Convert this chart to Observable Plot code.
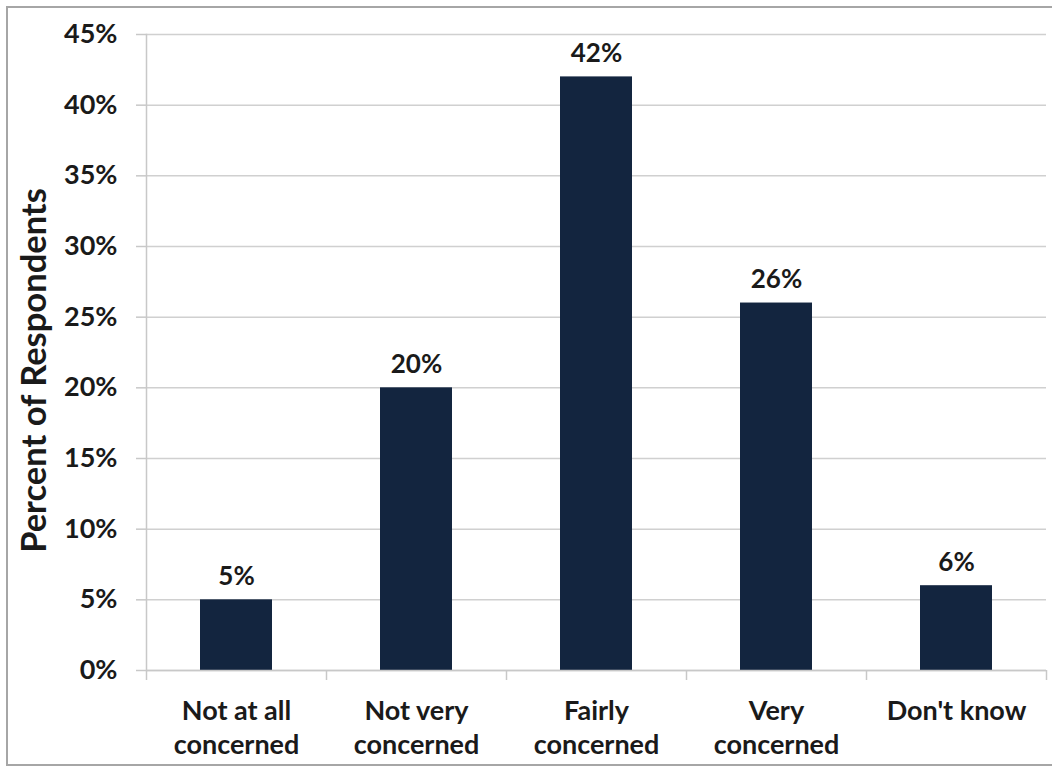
<!DOCTYPE html>
<html>
<head>
<meta charset="utf-8">
<script src="https://cdn.jsdelivr.net/npm/d3@7"></script>
<script src="https://cdn.jsdelivr.net/npm/@observablehq/plot@0.6"></script>
<style>
  html, body { margin: 0; padding: 0; background: #fff; }
  #wrap { position: relative; width: 1052px; height: 769px; overflow: hidden; }
  #frame { position: absolute; left: 6px; top: 6px; width: 1060px; height: 760px;
           border: 2px solid #a6a6a6; box-sizing: border-box; pointer-events: none; }
  svg { font-family: Lato, "Open Sans", sans-serif; }
</style>
</head>
<body>
<div id="wrap"><div id="frame"></div></div>
<script>
const categories = ["Not at all\nconcerned", "Not very\nconcerned", "Fairly\nconcerned", "Very\nconcerned", "Don't know"];
const values = [5, 20, 42, 26, 6];
const yTicks = [0, 5, 10, 15, 20, 25, 30, 35, 40, 45];
const yTitle = "Percent of Respondents";

const data = categories.map((c, i) => ({category: c, value: values[i]}));

const W = 1052, H = 769;
const mL = 146, mR = 6, mT = 34, mB = 99;
const bandW = (W - mL - mR) / categories.length;

const chart = Plot.plot({
  width: W,
  height: H,
  marginLeft: mL,
  marginRight: mR,
  marginTop: mT,
  marginBottom: mB,
  style: {fontFamily: "Lato, 'Open Sans', sans-serif", background: "transparent"},
  x: {domain: categories, paddingInner: 0.6, paddingOuter: 0.3, label: null},
  y: {domain: [0, 45], label: null},
  marks: [
    Plot.gridY(yTicks, {stroke: "#d0d0d0", strokeOpacity: 1, strokeWidth: 1.5}),
    Plot.axisY(yTicks, {
      tickSize: 10, tickPadding: 19, stroke: "#c8c8c8", strokeWidth: 1.5,
      tickFormat: d => d + "%", fontSize: 27, fontWeight: "bold", fill: "#1a1a1a",
      label: null
    }),
    Plot.axisX({
      tickSize: 0, tickPadding: 25, fontSize: 27, fontWeight: "bold", fill: "#1a1a1a",
      lineHeight: 1.26, label: null
    }),
    Plot.axisX({
      tickSize: 10, text: null, dx: -bandW / 2, stroke: "#c8c8c8", strokeWidth: 1.5, label: null
    }),
    Plot.axisX(categories.slice(-1), {
      tickSize: 10, text: null, dx: bandW / 2, stroke: "#c8c8c8", strokeWidth: 1.5, label: null
    }),
    Plot.barY(data, {x: "category", y: "value", fill: "#13253f"}),
    Plot.ruleY([0], {stroke: "#c8c8c8", strokeWidth: 1.5}),
    Plot.frame({anchor: "left", stroke: "#c8c8c8", strokeWidth: 1.5}),
    Plot.text(data, {
      x: "category", y: "value", text: d => d.value + "%",
      dy: -15, lineAnchor: "bottom", fontSize: 26, fontWeight: "bold", fill: "#1a1a1a"
    }),
    Plot.text([yTitle], {
      frameAnchor: "left", textAnchor: "middle", text: d => d, rotate: -90, dx: -112, dy: 18,
      fontSize: 34.5, fontWeight: "bold", fill: "#1a1a1a"
    })
  ]
});

document.getElementById("wrap").prepend(chart);
</script>
</body>
</html>
